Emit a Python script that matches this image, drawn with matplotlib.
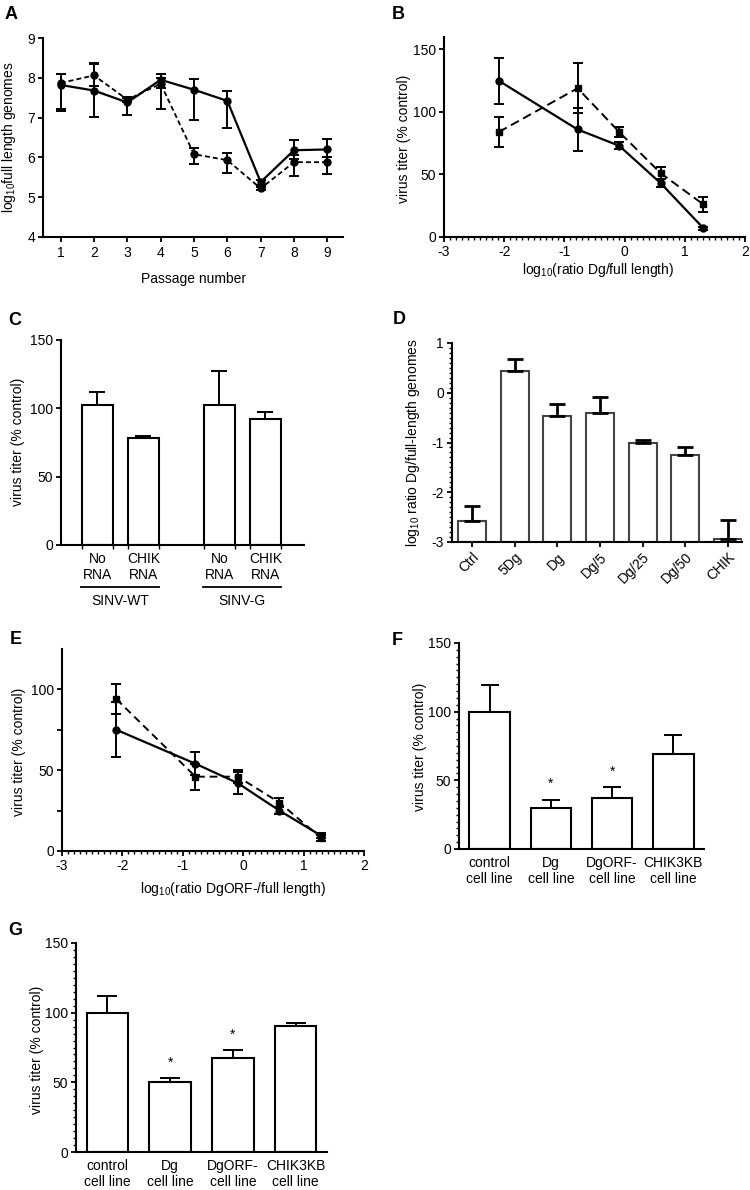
import matplotlib
matplotlib.use("Agg")
import matplotlib.pyplot as plt
import numpy as np
from matplotlib.ticker import MultipleLocator
import matplotlib.transforms as mtransforms

plt.rcParams['font.family'] = ['Liberation Sans', 'DejaVu Sans']
plt.rcParams['mathtext.fontset'] = 'custom'
plt.rcParams['mathtext.rm'] = 'Liberation Sans'
plt.rcParams['mathtext.it'] = 'Liberation Sans:italic'
plt.rcParams['mathtext.bf'] = 'Liberation Sans:bold'
plt.rcParams['axes.unicode_minus'] = False
plt.rcParams['lines.scale_dashes'] = False

# ---------------- data ----------------
# Panel A
passage = [1, 2, 3, 4, 5, 6, 7, 8, 9]
a_solid = [7.82, 7.68, 7.38, 7.95, 7.70, 7.42, 5.38, 6.18, 6.20]
a_solid_lo = [7.17, 7.02, 7.07, 7.75, 6.95, 6.75, 5.30, 5.95, 6.00]
a_solid_hi = [8.10, 8.35, 7.50, 8.10, 7.96, 7.68, 5.44, 6.43, 6.45]
a_dash = [7.87, 8.06, 7.45, 7.85, 6.08, 5.93, 5.22, 5.88, 5.88]
a_dash_lo = [7.22, 7.80, 7.40, 7.21, 5.84, 5.61, 5.18, 5.53, 5.58]
a_dash_hi = [8.10, 8.36, 7.52, 8.00, 6.23, 6.12, 5.26, 6.05, 6.02]

# Panel B
b_x = [-2.09, -0.78, -0.09, 0.60, 1.31]
b_solid = [125, 86, 73, 43, 7]
b_solid_err = [18.5, 17, 3, 3, 1]
b_dash = [84, 119, 84, 51, 26]
b_dash_err = [12, 20, 4, 5, 6]

# Panel C
c_labels = ["No\nRNA", "CHIK\nRNA", "No\nRNA", "CHIK\nRNA"]
c_groups = ["SINV-WT", "SINV-G"]
c_vals = [102.5, 78, 102.5, 92]
c_err = [9.3, 2, 25, 5]

# Panel D
d_labels = ["Ctrl", "5Dg", "Dg", "Dg/5", "Dg/25", "Dg/50", "CHIK"]
d_vals = [-2.57, 0.44, -0.47, -0.41, -1.01, -1.26, -2.93]
d_err = [0.30, 0.24, 0.25, 0.32, 0.07, 0.16, 0.37]

# Panel E
e_x = [-2.10, -0.79, -0.09, 0.60, 1.29]
e_solid = [75, 54, 42, 25, 9.5]
e_solid_err = [17, 7, 7, 2, 1.5]
e_dash = [94, 46, 46, 30, 8]
e_dash_err = [9.5, 8, 4, 3, 2]

# Panel F
cell_labels = ["control\ncell line", "Dg\ncell line", "DgORF-\ncell line", "CHIK3KB\ncell line"]
f_vals = [100, 29.5, 36.8, 69.3]
f_err = [19.5, 6.5, 8, 13.8]
f_sig = [False, True, True, False]

# Panel G
g_vals = [100, 50.2, 67.7, 90.7]
g_err = [11.8, 2.8, 5.5, 2.2]
g_sig = [False, True, True, False]

# ---------------- figure ----------------
W, H = 750, 1190
fig = plt.figure(figsize=(7.5, 11.9), dpi=100)

def axes_px(l, t, r, b):
    return fig.add_axes([l / W, 1 - b / H, (r - l) / W, (b - t) / H])

def ftext(x, y, s, **kw):
    return fig.text(x / W, 1 - y / H, s, **kw)

FS = 10
LW = 1.5

def style(ax):
    for s in ['top', 'right']:
        ax.spines[s].set_visible(False)
    for s in ['left', 'bottom']:
        ax.spines[s].set_linewidth(LW)
    ax.tick_params(which='major', direction='out', width=1.3, length=3.8,
                   labelsize=FS, pad=2)
    ax.tick_params(which='minor', direction='out', width=1.0, length=2.2)
    ax.patch.set_alpha(0)

def asym(v, lo, hi):
    v = np.asarray(v, float)
    return [v - np.asarray(lo, float), np.asarray(hi, float) - v]

# ---- Panel A ----
axA = axes_px(43, 38, 343, 237)
style(axA)
axA.errorbar(passage, a_solid, yerr=asym(a_solid, a_solid_lo, a_solid_hi),
             color='k', lw=1.6, marker='o', ms=5, capsize=3.5, capthick=1.4,
             elinewidth=1.4, zorder=3)
axA.errorbar(passage, a_dash, yerr=asym(a_dash, a_dash_lo, a_dash_hi),
             color='k', lw=1.3, ls=(0, (3.6, 2.2)), marker='o', ms=5,
             capsize=3.5, capthick=1.4, elinewidth=1.4, zorder=3)
axA.set_xlim(0.47, 9.47)
axA.set_ylim(4, 9)
axA.set_xticks(passage)
axA.set_yticks([4, 5, 6, 7, 8, 9])
axA.tick_params(axis='x', pad=3)
ftext(9, 137, r"log$_{10}$full length genomes", rotation=90, ha='center', va='center', fontsize=FS)
ftext(194, 279, "Passage number", ha='center', va='center', fontsize=FS)

# ---- Panel B ----
axB = axes_px(444, 37, 745, 237)
style(axB)
axB.errorbar(b_x, b_solid, yerr=b_solid_err, color='k', lw=1.6, marker='o', ms=5,
             capsize=3.5, capthick=1.4, elinewidth=1.4, zorder=3)
axB.errorbar(b_x, b_dash, yerr=b_dash_err, color='k', lw=1.4, ls=(0, (6.5, 3.5)),
             marker='s', ms=4.5, capsize=3.5, capthick=1.4, elinewidth=1.4, zorder=3)
axB.set_xlim(-3, 2)
axB.set_ylim(0, 160)
axB.set_xticks([-3, -2, -1, 0, 1, 2])
axB.set_yticks([0, 50, 100, 150])
axB.xaxis.set_minor_locator(MultipleLocator(0.1))
ftext(404, 139, "virus titer (% control)", rotation=90, ha='center', va='center', fontsize=FS)
ftext(598, 270, r"log$_{10}$(ratio Dg/full length)", ha='center', va='center', fontsize=FS)

# ---- Panel C ----
axC = axes_px(61, 340, 304, 545)
style(axC)
c_pos = np.array([0, 1, 2.65, 3.65])
bw = 0.67
axC.bar(c_pos, c_vals, width=bw, color='white', edgecolor='k', linewidth=LW, zorder=2)
axC.errorbar(c_pos, c_vals, yerr=[np.zeros(len(c_vals)), c_err], fmt='none', ecolor='k',
             elinewidth=1.4, capsize=5.5, capthick=1.4, zorder=3)
axC.set_xlim(-0.79, 4.49)
axC.set_ylim(0, 150)
axC.set_yticks([0, 50, 100, 150])
axC.set_xticks(c_pos)
axC.set_xticklabels(c_labels, fontsize=FS, linespacing=1.15)
axC.tick_params(axis='x', which='major', length=0, pad=5)
axC.set_xticks(np.concatenate([c_pos - bw / 2, c_pos + bw / 2]), minor=True)
axC.tick_params(axis='x', which='minor', length=3, width=1.0)
trC = mtransforms.blended_transform_factory(axC.transData, axC.transAxes)
for gi, gname in enumerate(c_groups):
    centre = c_pos[2 * gi:2 * gi + 2].mean()
    axC.plot([centre - 0.85, centre + 0.85], [-0.205, -0.205], color='k', lw=1.3,
             transform=trC, clip_on=False)
    axC.text(centre, -0.275, gname, transform=trC, ha='center', va='center', fontsize=FS)
ftext(18, 442, "virus titer (% control)", rotation=90, ha='center', va='center', fontsize=FS)

# ---- Panel D ----
axD = axes_px(452, 343, 742, 542)
style(axD)
d_pos = np.arange(len(d_vals))
dv = np.asarray(d_vals)
axD.bar(d_pos, dv + 3, bottom=-3, width=0.66, color='white', edgecolor='#444444',
        linewidth=LW, zorder=2)
axD.errorbar(d_pos, dv, yerr=[np.zeros(len(dv)), d_err], fmt='none', ecolor='k',
             elinewidth=2.0, capsize=6, capthick=2.0, zorder=3)
axD.set_xlim(-0.47, 6.33)
axD.set_ylim(-3, 1)
axD.set_yticks([-3, -2, -1, 0, 1])
axD.yaxis.set_minor_locator(MultipleLocator(0.1))
axD.set_xticks(d_pos)
axD.set_xticklabels(d_labels, rotation=45, ha='right', rotation_mode='anchor', fontsize=FS)
axD.tick_params(axis='x', pad=2)
ftext(413, 443, r"log$_{10}$ ratio Dg/full-length genomes", rotation=90, ha='center',
      va='center', fontsize=FS)

# ---- Panel E ----
axE = axes_px(62, 649, 364, 851)
style(axE)
axE.errorbar(e_x, e_solid, yerr=e_solid_err, color='k', lw=1.6, marker='o', ms=5,
             capsize=3.5, capthick=1.4, elinewidth=1.4, zorder=3)
axE.errorbar(e_x, e_dash, yerr=e_dash_err, color='k', lw=1.4, ls=(0, (5.5, 3.5)),
             marker='s', ms=4.5, capsize=3.5, capthick=1.4, elinewidth=1.4, zorder=3)
axE.set_xlim(-3, 2)
axE.set_ylim(0, 125)
axE.set_xticks([-3, -2, -1, 0, 1, 2])
axE.set_yticks([0, 25, 50, 75, 100])
axE.set_yticklabels(['0', '', '50', '', '100'])
axE.xaxis.set_minor_locator(MultipleLocator(0.1))
ftext(19, 752, "virus titer (% control)", rotation=90, ha='center', va='center', fontsize=FS)
ftext(233, 889, r"log$_{10}$(ratio DgORF-/full length)", ha='center', va='center', fontsize=FS)

# ---- Panels F and G ----
def cell_panel(box, vals, err, sig, ylab_xy, capsize):
    ax = axes_px(*box)
    style(ax)
    pos = np.arange(len(vals))
    ax.bar(pos, vals, width=0.66, color='white', edgecolor='k', linewidth=LW, zorder=2)
    ax.errorbar(pos, vals, yerr=[np.zeros(len(vals)), err], fmt='none', ecolor='k',
                elinewidth=1.4, capsize=capsize, capthick=1.4, zorder=3)
    for p, v, e, s in zip(pos, vals, err, sig):
        if s:
            ax.annotate("*", xy=(p, v + e), xytext=(0, 6), textcoords='offset points',
                        ha='center', va='bottom', fontsize=FS)
    ax.set_xlim(-0.5, len(vals) - 0.5)
    ax.set_ylim(0, 150)
    ax.set_yticks([0, 50, 100, 150])
    ax.yaxis.set_minor_locator(MultipleLocator(5))
    ax.set_xticks(pos)
    ax.set_xticklabels(cell_labels, fontsize=FS, linespacing=1.15)
    ax.tick_params(axis='x', length=0, pad=5)
    ftext(ylab_xy[0], ylab_xy[1], "virus titer (% control)", rotation=90, ha='center',
          va='center', fontsize=FS)
    return ax

axF = cell_panel((459, 643, 704, 849), f_vals, f_err, f_sig, (420, 747), 6.5)
axG = cell_panel((76, 943, 327, 1152), g_vals, g_err, g_sig, (37, 1050), 7.5)

# ---- panel letters ----
for letter, (x, y) in {"A": (5, 6), "B": (392, 6), "C": (8, 312), "D": (393, 311),
                       "E": (10, 631), "F": (392, 632), "G": (8, 922)}.items():
    ftext(x, y, letter, fontsize=13, fontweight='bold', ha='left', va='top')

fig.savefig("out.png", dpi=100)
